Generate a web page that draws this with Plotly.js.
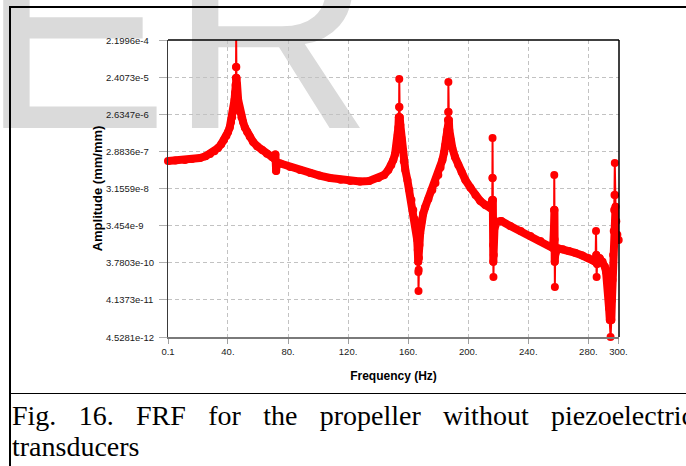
<!DOCTYPE html>
<html><head><meta charset="utf-8">
<script src="https://cdn.plot.ly/plotly-3.0.1.min.js"></script>
<style>
html,body{margin:0;padding:0;background:#fff;width:686px;height:466px;overflow:hidden;}
#wm{position:absolute;left:0;top:0;z-index:0;}
#plot{position:absolute;left:0;top:0;width:686px;height:466px;z-index:1;}
#cap{position:absolute;left:12px;top:400px;width:682px;font-family:'Liberation Serif',serif;font-size:28px;line-height:31px;text-align:justify;color:#000;z-index:2;}
.ln{position:absolute;background:#000;z-index:3;}
.scatterlayer .js-line{stroke-linejoin:round;stroke-linecap:round;}
</style>
</head><body>
<svg id="wm" width="686" height="466"><text x="-20" y="128" font-family="Liberation Sans, Arial, sans-serif" font-size="283" fill="#dadada">ER</text></svg>
<div id="plot"></div>
<div id="cap">Fig. 16. FRF for the propeller without piezoelectric transducers</div>
<div class="ln" style="left:9px;top:6px;width:2px;height:460px;"></div>
<div class="ln" style="left:9px;top:6px;width:677px;height:2px;"></div>
<div class="ln" style="left:9px;top:393px;width:677px;height:1px;"></div>
<script>
// Frequency response: main body of the curve (Hz, mm/mm)
const freq = [0.1,5,11.4,16,21.4,25,28.1,31,33.4,35.5,37.4,39,40.1,41.2,42.1,42.8,43.4,44.0,44.4,44.8,45.1,45.3,
  45.7,46.1,46.8,47.4,48.1,49,50.1,51.3,52.8,54.5,56.8,59.5,62.8,66,69.4,71,71.6,72.1,72.6,75,81.4,88,94.8,101,108.1,115,121.4,128,134,140.1,144,146.8,148.8,150.1,151.3,152.1,152.8,153.1,153.5,153.8,
  154.4,154.8,155.5,156.1,157.1,158.1,159.5,160.8,162.2,163.4,164.5,165.4,166.0,166.4,166.7,
  167.2,167.5,168.0,168.8,170,171.4,173.5,176.1,178.2,180.1,181.6,182.8,183.9,184.8,185.5,186.1,186.5,
  187.1,187.4,188.3,189.4,191.2,193.4,195.6,198.1,201.5,204.8,208,211.4,214.8,216.0,
  216.4,216.5,216.6,216.7,217.0,217.5,219,222,228,235,241.4,248.1,254.8,256.5,257.1,257.2,
  257.4,257.5,257.6,257.9,259.4,263,267,271.4,276,280,283.5,284.8,
  285.3,285.8,287.5,289.5,291,291.8,292.5,293.2,293.8,294.3,
  295.3,295.7,296.1,296.5,296.9,297.2,298.1,298.6,299.3,300.2,301.5];
const amp = [1.63e-7,1.67e-7,1.72e-7,1.82e-7,1.94e-7,2.15e-7,2.47e-7,2.9e-7,3.53e-7,4.4e-7,5.68e-7,7.3e-7,9.15e-7,1.2e-6,1.66e-6,2.2e-6,3.01e-6,4.3e-6,6.16e-6,9.5e-6,1.51e-5,2.29e-5,
  2.29e-5,1.51e-5,6.16e-6,4.3e-6,3.01e-6,2.2e-6,1.66e-6,1.2e-6,9.15e-7,7e-7,5.04e-7,3.9e-7,3.13e-7,2.5e-7,2.06e-7,1.85e-7,2.4e-7,9e-8,1.5e-7,1.4e-7,1.14e-7,9.5e-8,7.95e-8,6.8e-8,5.9e-8,5.3e-8,4.93e-8,4.8e-8,4.93e-8,5.9e-8,7.06e-8,9.51e-8,1.28e-7,1.72e-7,2.47e-7,3.53e-7,5.04e-7,7.65e-7,1.2e-6,2.2e-6,
  2.2e-6,1.39e-6,6.4e-7,3.13e-7,1.6e-7,9.51e-8,5.24e-8,2.89e-8,1.59e-8,8.77e-9,5e-9,3.0e-9,1.5e-9,8.08e-10,4e-10,
  5e-10,1.09e-9,2.2e-9,4.29e-9,7e-9,1.05e-8,1.7e-8,2.89e-8,4.4e-8,7.06e-8,1.1e-7,1.72e-7,2.7e-7,4.22e-7,6.4e-7,1.03e-6,1.87e-6,
  1.87e-6,1.03e-6,5.68e-7,3.53e-7,2.06e-7,1.28e-7,8.4e-8,5.24e-8,3.3e-8,2.14e-8,1.5e-8,1.18e-8,9.88e-9,1.59e-8,
  1.59e-8,4.29e-9,1.09e-9,4e-10,6e-10,3.0e-9,4.29e-9,4.55e-9,3.38e-9,2.51e-9,1.86e-9,1.38e-9,1.03e-9,9e-10,3.0e-9,8.77e-9,
  8.77e-9,1.5e-9,4e-10,6e-10,9e-10,8.5e-10,7.6e-10,6.8e-10,5.8e-10,5.0e-10,4.3e-10,3.96e-10,
  6e-10,3.5e-10,5.0e-10,4e-10,3.0e-10,2.18e-10,1.35e-10,6e-11,2.5e-11,1.25e-11,
  1.25e-11,4.11e-11,1.35e-10,6e-10,2.5e-9,8.77e-9,1.06e-8,4.5e-9,2.0e-9,1.47e-9,1.5e-9];
// Sparse points at resonance tips and anti-resonance dips
const tipFreq = [45.4,45.5,45.6,154.0,154.1,154.2,166.8,166.9,167.0,186.7,186.8,186.9,216.1,216.2,216.3,216.8,257.3,257.7,285.1,285.5,294.8,297.4,297.6,297.8];
const tipAmp = [4.4e-5,2.1996e-4,4.4e-5,4.06e-6,2.15e-5,4.06e-6,2.18e-10,7.03e-11,2.5e-10,3.01e-6,1.80e-5,3.01e-6,5.9e-8,6.4e-7,5.9e-8,1.62e-10,7.06e-8,8.92e-11,2.51e-9,1.62e-10,4.5281e-12,2.14e-8,1.44e-7,2.14e-8];

const xTickVals = [0.1,40,80,120,160,200,240,280,300];
const xTickText = ['0.1','40.','80.','120.','160.','200.','240.','280.','300.'];
const yTickVals = [2.1996e-4,2.4073e-5,2.6347e-6,2.8836e-7,3.1559e-8,3.454e-9,3.7803e-10,4.1373e-11,4.5281e-12];
const yTickText = ['2.1996e-4','2.4073e-5','2.6347e-6','2.8836e-7','3.1559e-8','3.454e-9','3.7803e-10','4.1373e-11','4.5281e-12'];

const all = freq.map((f,i)=>[f,amp[i]]).concat(tipFreq.map((f,i)=>[f,tipAmp[i]])).sort((a,b)=>a[0]-b[0]);

const red = '#ff0000';
const traces = [
  {x: freq, y: amp, mode:'lines', line:{color:red, width:8}, cliponaxis:false, hoverinfo:'skip'},
  {x: all.map(p=>p[0]), y: all.map(p=>p[1]), mode:'lines+markers', line:{color:red, width:2},
   marker:{color:red, size:8, symbol:'circle'}, cliponaxis:false}
];

const tickFont = {family:'Liberation Sans, Arial, sans-serif', size:9.5, color:'#1a1a1a'};
const L = 168, W = 451;
const annotations = yTickVals.map((v,i)=>({xref:'paper', yref:'y', x:(104-L)/W, y:Math.log10(v), text:yTickText[i],
  xanchor:'left', yanchor:'middle', showarrow:false, font:tickFont}));

const layout = {
  width:686, height:466,
  margin:{l:168, r:67, t:40, b:129, pad:0},
  paper_bgcolor:'rgba(0,0,0,0)', plot_bgcolor:'rgba(0,0,0,0)',
  showlegend:false,
  xaxis:{range:[0.1,300.4], tickvals:xTickVals, ticktext:xTickText, showgrid:true, gridcolor:'#c2c2c2', griddash:'4px,3px', gridwidth:1,
    zeroline:false, showline:true, linecolor:'#7a7a7a', linewidth:2, ticks:'outside', ticklen:5, tickcolor:'#a0a0a0',
    tickfont:tickFont, automargin:false,
    title:{text:'<b>Frequency (Hz)</b>', font:{family:'Liberation Sans, Arial, sans-serif', size:12, color:'#000'}, standoff:15}},
  yaxis:{type:'log', range:[Math.log10(4.5281e-12), Math.log10(2.1996e-4)], tickvals:yTickVals, showticklabels:false,
    showgrid:true, gridcolor:'#c2c2c2', griddash:'4px,3px', gridwidth:1, zeroline:false, showline:true, linecolor:'#3a3a3a', linewidth:1.5,
    ticks:'outside', ticklen:8, tickcolor:'#b0b0b0', automargin:false,
    title:{text:'<b>Amplitude (mm/mm)</b>', font:{family:'Liberation Sans, Arial, sans-serif', size:13, color:'#000'}, standoff:53}},
  shapes:[
    {type:'line', xref:'paper', yref:'paper', x0:0, x1:1, y0:1, y1:1, line:{color:'#000', width:1.5}},
    {type:'line', xref:'paper', yref:'paper', x0:1, x1:1, y0:0, y1:1, line:{color:'#000', width:1.5}}
  ],
  annotations: annotations
};
Plotly.newPlot('plot', traces, layout, {staticPlot:true, displayModeBar:false});
</script>
</body></html>
